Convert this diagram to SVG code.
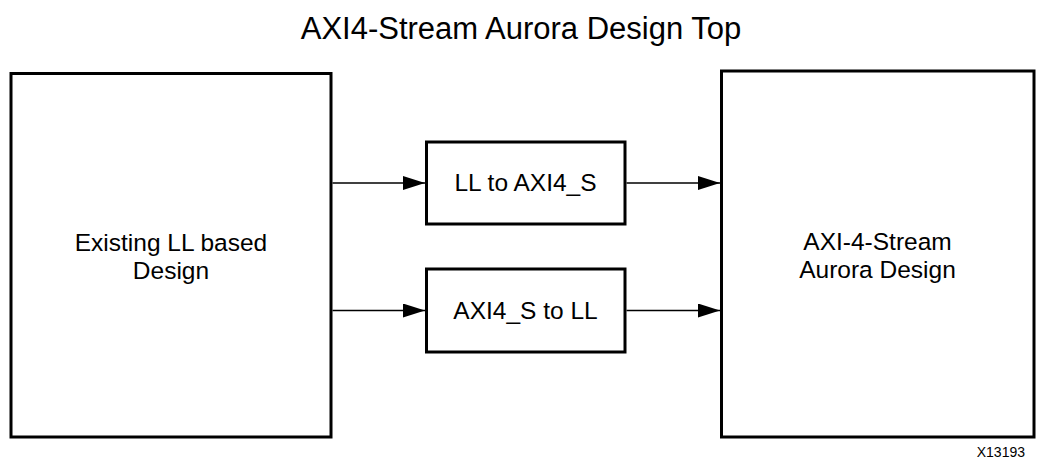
<svg xmlns="http://www.w3.org/2000/svg" width="1037" height="464" viewBox="0 0 1037 464">
<style>
.box{fill:#fff;stroke:#000;stroke-width:3}
.lbl{font-family:"Liberation Sans",Arial,sans-serif;font-size:24.5px;fill:#000;text-anchor:middle}
.title{font-family:"Liberation Sans",Arial,sans-serif;font-size:31px;fill:#000;text-anchor:middle}
.note{font-family:"Liberation Sans",Arial,sans-serif;font-size:14px;fill:#000;text-anchor:end}
.conn{stroke:#000;stroke-width:1.5;fill:none;marker-end:url(#ah)}
</style>
<defs>
<marker id="ah" markerUnits="userSpaceOnUse" markerWidth="22" markerHeight="14" refX="22" refY="7" orient="auto">
<path d="M0,0 L22,7 L0,14 Z" fill="#000"/>
</marker>
</defs>
<rect width="1037" height="464" fill="#fff"/>
<text class="title" x="521" y="39">AXI4-Stream Aurora Design Top</text>
<g id="existing">
<rect class="box" x="11" y="73.5" width="320" height="363.5"/>
<text class="lbl" x="171" y="251">Existing LL based</text>
<text class="lbl" x="171" y="279">Design</text>
</g>
<g id="ll2axi">
<rect class="box" x="426.5" y="142" width="198.5" height="82"/>
<text class="lbl" x="525.5" y="191">LL to AXI4_S</text>
</g>
<g id="axi2ll">
<rect class="box" x="426.5" y="269" width="198.5" height="83"/>
<text class="lbl" x="525.5" y="319">AXI4_S to LL</text>
</g>
<g id="aurora">
<rect class="box" x="721.5" y="71" width="312.5" height="366"/>
<text class="lbl" x="877.5" y="250">AXI-4-Stream</text>
<text class="lbl" x="877.5" y="278">Aurora Design</text>
</g>
<g id="connectors">
<line class="conn" x1="332.5" y1="183" x2="425" y2="183"/>
<line class="conn" x1="626.5" y1="183" x2="720" y2="183"/>
<line class="conn" x1="332.5" y1="310.5" x2="425" y2="310.5"/>
<line class="conn" x1="626.5" y1="310.5" x2="720" y2="310.5"/>
</g>
<text class="note" x="1025" y="457">X13193</text>
</svg>
